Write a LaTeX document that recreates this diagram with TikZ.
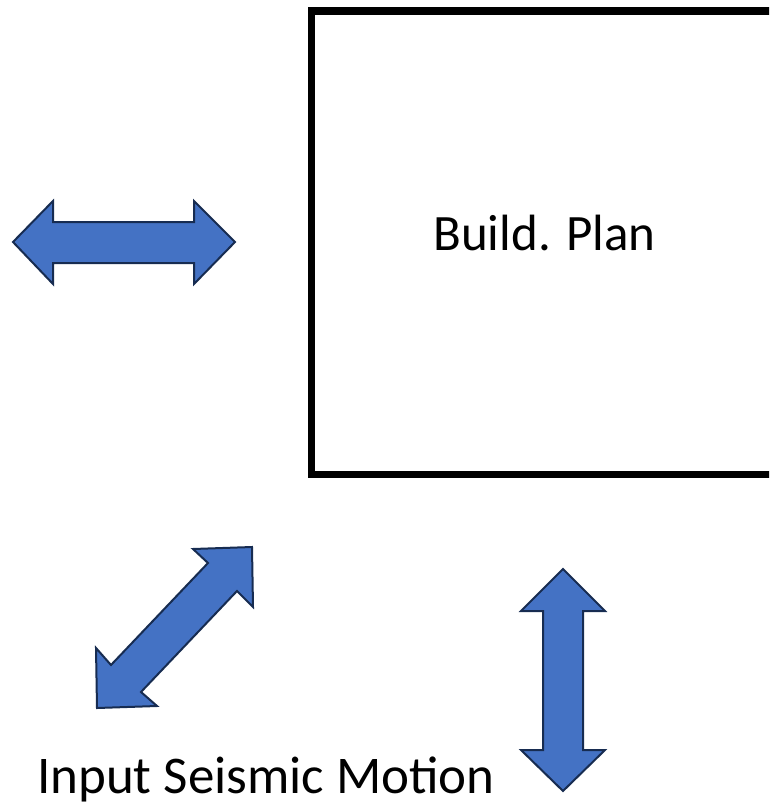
\documentclass[tikz,border=0pt]{standalone}
\usepackage{fontspec}
\setmainfont{Carlito}
\definecolor{arrowfill}{HTML}{4472C4}
\definecolor{arrowline}{HTML}{172C51}
\tikzset{
  bigarrow/.style={fill=arrowfill, draw=arrowline, line width=2pt, line join=miter},
  planbox/.style={draw=black, line width=7.5pt, line join=miter},
  label/.style={font=\fontsize{51}{58}\selectfont, anchor=base, inner sep=0pt},
  biglabel/.style={label, font=\fontsize{53}{60}\selectfont}
}
\begin{document}
\begin{tikzpicture}[x=1pt,y=-1pt]
\useasboundingbox (0,0) rectangle (769,803);
\clip (0,0) rectangle (769,803);
% building plan box (extends past right edge)
\draw[planbox] (790,11) -- (311.5,11) -- (311.5,474.5) -- (790,474.5);
\node[label] (plan) at (544.5,250) {Build. Plan};
% horizontal double arrow
\draw[bigarrow] (13,242) -- (53,201) -- (53,222) -- (194,222) -- (194,201) -- (235,242)
  -- (194,284) -- (194,263) -- (53,263) -- (53,284) -- cycle;
% vertical double arrow
\draw[bigarrow] (563,569) -- (605,611) -- (583,611) -- (583,750) -- (605,750) -- (563,791)
  -- (521,750) -- (543,750) -- (543,611) -- (521,611) -- cycle;
% diagonal double arrow
\draw[bigarrow] (252,547) -- (253,607) -- (237,591) -- (141,692) -- (157,706) -- (97,708)
  -- (96,648) -- (111,665) -- (208,563) -- (193,549) -- cycle;
\node[biglabel] (motion) at (266,793.5) {Input Seismic Motion};
\end{tikzpicture}
\end{document}
